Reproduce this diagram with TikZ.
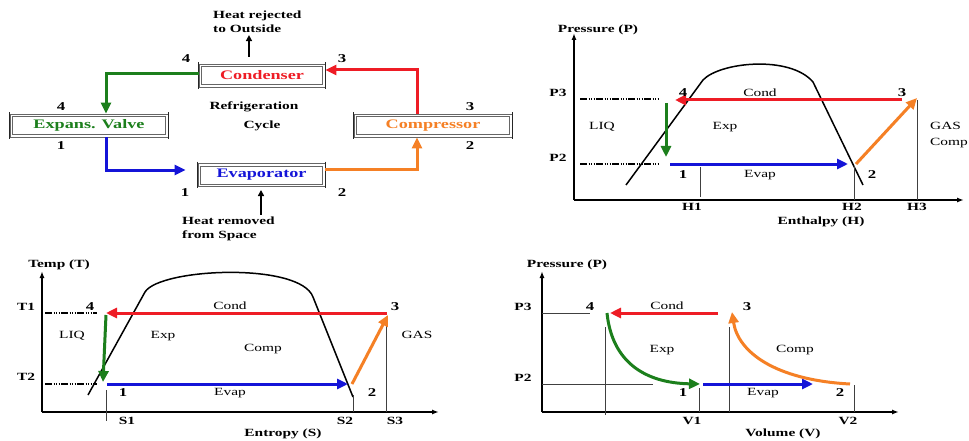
\documentclass[tikz,border=0pt]{standalone}
\usepackage{fontspec}
\setmainfont{Liberation Serif}[FakeStretch=1.4]
\usetikzlibrary{arrows.meta,positioning}
\definecolor{cycred}{HTML}{EE1C25}
\definecolor{cycgreen}{HTML}{1C7F1C}
\definecolor{cycblue}{HTML}{1414D8}
\definecolor{cycorange}{HTML}{F58025}
\definecolor{boxgray}{HTML}{666666}

\begin{document}
\begin{tikzpicture}[x=1pt,y=-1pt,
  unit/.style={draw=boxgray,line width=0.8pt,inner sep=0pt,minimum height=23pt,font=\fontsize{13}{14}\selectfont\bfseries,
    path picture={\draw[boxgray,line width=0.7pt] ([xshift=2.5pt,yshift=-2.5pt]path picture bounding box.north west) rectangle ([xshift=-2.5pt,yshift=2.5pt]path picture bounding box.south east);}},
  bar/.style={line width=1.3pt,black!85},
  lbl/.style={font=\fontsize{11}{14}\selectfont\bfseries,inner sep=0pt},
  num/.style={font=\fontsize{12}{14}\selectfont\bfseries,inner sep=0pt},
  reg/.style={font=\fontsize{11}{13}\selectfont,inner sep=0pt},
  flow/.style={-{Triangle[length=11pt,width=10pt]},line width=3pt},
  heat/.style={-{Triangle[length=6pt,width=6pt]},line width=1.6pt},
  axis/.style={-{Latex[length=7pt,width=5pt]},line width=1.4pt},
  dome/.style={line width=1.5pt},
  level/.style={line width=1.3pt,dash pattern=on 7pt off 1.5pt on 1pt off 1.5pt on 1pt off 1.5pt on 1pt off 1.5pt},
  guide/.style={line width=0.7pt,black!75}
]
\useasboundingbox[fill=white] (0,0) rectangle (969,441);

% Refrigeration cycle (top left)
\node[unit,minimum width=126pt,text=cycred] (cond) at (262,75.5) {Condenser};
\node[unit,minimum width=158pt,text=cycgreen] (valve) at (89,125.5) {Expans. Valve};
\node[unit,minimum width=127pt,text=cycblue] (evap) at (261.5,175) {Evaporator};
\node[unit,minimum width=158pt,text=cycorange] (comp) at (433,125.5) {Compressor};
\foreach \b in {cond,valve,evap,comp} {
  \draw[bar] ([yshift=1.5pt]\b.north west) -- ([yshift=-1.5pt]\b.south west);
  \draw[bar] ([yshift=1.5pt]\b.north east) -- ([yshift=-1.5pt]\b.south east);
}

\draw[flow,cycgreen] ([yshift=2pt]cond.west) -| ([xshift=17pt]valve.north);
\draw[flow,cycblue] ([xshift=17pt]valve.south) |- ([xshift=-12pt,yshift=5pt]evap.west);
\draw[flow,cycorange] ([yshift=6pt]evap.east) -| ([xshift=-16pt]comp.south);
\draw[flow,cycred] ([xshift=-16pt]comp.north) |- ([yshift=5.5pt]cond.east);

\node[lbl,align=left,anchor=west] (rejtxt) at (213,22) {Heat rejected\\to Outside};
\coordinate (rejbase) at (249,57);
\draw[heat] (rejbase) -- ([yshift=-2pt]rejbase |- rejtxt.south);
\node[lbl,align=left,anchor=west] (remtxt) at (182,229) {Heat removed\\from Space};
\coordinate (remtop) at (261,190);
\draw[heat] ([yshift=2pt]remtop |- remtxt.north) -- (remtop);

\node[lbl] (cyc1) at (254,107) {Refrigeration};
\node[lbl] (cyc2) at (262,126) {Cycle};

\node[num] at (186,59) {4};
\node[num] at (342,59) {3};
\node[num] at (61,107) {4};
\node[num] at (61,146) {1};
\node[num] at (470,107) {3};
\node[num] at (470,146) {2};
\node[num] at (185,193) {1};
\node[num] at (342,193) {2};

% P-H diagram (top right)
\coordinate (phO) at (574,200);
\coordinate (phY) at (574,33);
\coordinate (phX) at (964,200);
\draw[axis] (phO) -- (phY);
\draw[axis] (phO) -- (phX);
\draw[dome] (626,185) -- (703,80) .. controls (720,62) and (790,55) .. (813,82) -- (863,185);
\draw[level] (580,99) -- (660,99);
\draw[level] (580,164) -- (660,164);
\draw[guide] (700,167) -- (700,197);
\draw[guide] (854,166) -- (854,200);
\draw[guide] (917,100) -- (917,200);
\coordinate (ph1) at (670,164);
\coordinate (ph2) at (852,164);
\coordinate (ph3) at (917,98);
\coordinate (ph4) at (675,100);
\draw[flow,cycred] (902,100) -- (ph4);
\draw[flow,cycgreen] (666,103) -- (666,157);
\draw[flow,cycblue] (ph1) -- (848,164);
\draw[flow,cycorange] (856,164) -- (ph3);

\node[lbl] at (598,30) {Pressure (P)};
\node[lbl] at (558,93) {P3};
\node[lbl] at (558,158) {P2};
\node[num] at (683,93) {4};
\node[num] at (902,93) {3};
\node[reg] at (760,93) {Cond};
\node[reg] at (602,127) {LIQ};
\node[reg] at (725,127) {Exp};
\node[reg,anchor=west] at (930,126) {GAS};
\node[reg,anchor=west] at (930,143) {Comp};
\node[num] at (683,175) {1};
\node[reg] at (760,175) {Evap};
\node[num] at (872,175) {2};
\node[lbl] at (692,207) {H1};
\node[lbl] at (852,207) {H2};
\node[lbl] at (917,207) {H3};
\node[lbl] at (821,222) {Enthalpy (H)};

% T-S diagram (bottom left)
\coordinate (tsO) at (42,412);
\coordinate (tsY) at (42,271);
\coordinate (tsX) at (439,412);
\draw[axis] (tsO) -- (tsY);
\draw[axis] (tsO) -- (tsX);
\draw[dome] (88,395) -- (145,292) .. controls (160,268) and (300,262) .. (313,297) -- (353,397);
\draw[level] (45,313) -- (97,313);
\draw[level] (45,384) -- (97,384);
\draw[guide] (106,390) -- (106,421);
\draw[guide] (353,395) -- (353,412);
\draw[guide] (386,326) -- (386,412);
\coordinate (ts1) at (107,384);
\coordinate (ts3) at (388,315);
\coordinate (ts4) at (106,313);
\draw[flow,cycred] (387,313) -- (ts4);
\draw[flow,cycgreen] (106,315) -- (103,382);
\draw[flow,cycblue] (ts1) -- (348,384);
\draw[flow,cycorange] (352,384) -- (ts3);

\node[lbl] at (59,265) {Temp (T)};
\node[lbl] at (26,307) {T1};
\node[lbl] at (26,377) {T2};
\node[num] at (90,307) {4};
\node[num] at (395,307) {3};
\node[reg] at (230,306) {Cond};
\node[reg] at (72,336) {LIQ};
\node[reg] at (163,336) {Exp};
\node[reg] at (263,349) {Comp};
\node[reg] at (417,335) {GAS};
\node[num] at (123,393) {1};
\node[reg] at (230,393) {Evap};
\node[num] at (372,393) {2};
\node[lbl] at (127,421) {S1};
\node[lbl] at (345,421) {S2};
\node[lbl] at (395,421) {S3};
\node[lbl] at (283,434) {Entropy (S)};

% P-V diagram (bottom right)
\coordinate (pvO) at (542,412);
\coordinate (pvY) at (542,271);
\coordinate (pvX) at (899,412);
\draw[axis] (pvO) -- (pvY);
\draw[axis] (pvO) -- (pvX);
\draw[guide] (542,313) -- (590,313);
\draw[guide] (542,384) -- (653,384);
\draw[guide] (605,327) -- (605,415);
\draw[guide] (699,388) -- (699,412);
\draw[guide] (729,327) -- (729,412);
\draw[guide] (854,385) -- (854,412);
\coordinate (pv1) at (703,384);
\coordinate (pv2) at (850,384);
\coordinate (pv3) at (732,312);
\coordinate (pv4) at (607,313);
\draw[flow,cycred] (718,313) -- (610,313);
\draw[flow,cycgreen] (pv4) .. controls (612,362) and (645,383) .. (700,384);
\draw[flow,cycblue] (pv1) -- (813,384);
\draw[flow,cycorange] (pv2) .. controls (775,380) and (738,352) .. (pv3);

\node[lbl] at (567,265) {Pressure (P)};
\node[lbl] at (523,307) {P3};
\node[lbl] at (523,378) {P2};
\node[num] at (590,307) {4};
\node[num] at (747,307) {3};
\node[reg] at (667,306) {Cond};
\node[reg] at (662,350) {Exp};
\node[reg] at (795,350) {Comp};
\node[num] at (683,393) {1};
\node[reg] at (763,393) {Evap};
\node[num] at (840,393) {2};
\node[lbl] at (692,421) {V1};
\node[lbl] at (848,421) {V2};
\node[lbl] at (783,434) {Volume (V)};

\end{tikzpicture}
\end{document}
